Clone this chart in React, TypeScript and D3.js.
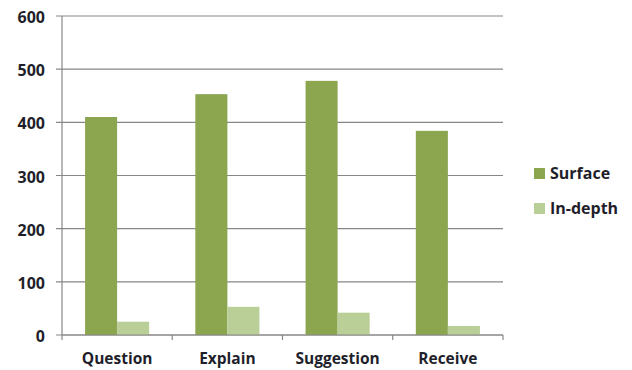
import React from "react";
import * as d3 from "d3";

const categories = ["Question", "Explain", "Suggestion", "Receive"];
const surfaceValues = [410, 453, 478, 384];
const inDepthValues = [25, 53, 42, 17];
const seriesNames = ["Surface", "In-depth"];
const yTicks = [0, 100, 200, 300, 400, 500, 600];

const colors = ["#8BA64F", "#BACF98"];
const font = "'Open Sans', 'Liberation Sans', sans-serif";
const textColor = "#1F1F2B";

export default function App() {
  const width = 632;
  const height = 370;
  const left = 62;
  const right = 503;
  const top = 16;
  const bottom = 335;

  const x = d3.scaleBand<string>().domain(categories).range([left, right]).paddingInner(0).paddingOuter(0);
  const inner = d3.scaleBand<number>().domain([0, 1]).range([0, x.bandwidth()]).paddingOuter(0.72).paddingInner(0);
  const y = d3.scaleLinear().domain([0, 600]).range([bottom, top]);
  const series = [surfaceValues, inDepthValues];

  const tickXs = categories.map((c) => x(c)!).concat([right]);

  return (
    <svg width={width} height={height} style={{ position: "absolute", left: 0, top: 0 }}>
      <rect width={width} height={height} fill="#fff" />
      {yTicks.map((t) => (
        <g key={t}>
          <line x1={left - 6} x2={right} y1={y(t)} y2={y(t)} stroke="#878787" strokeWidth={1.2} />
          <text x={left - 17} y={y(t) + 7} textAnchor="end" fontFamily={font} fontWeight={700} fontSize={16} fill={textColor}>
            {t}
          </text>
        </g>
      ))}
      <line x1={left} x2={left} y1={top} y2={bottom} stroke="#878787" strokeWidth={1.2} />
      {series.map((vals, si) =>
        categories.map((c, i) => (
          <rect
            key={`${si}-${c}`}
            x={x(c)! + inner(si)!}
            y={y(vals[i])}
            width={inner.bandwidth()}
            height={y(0) - y(vals[i])}
            fill={colors[si]}
          />
        ))
      )}
      <line x1={left} x2={right} y1={bottom} y2={bottom} stroke="#878787" strokeWidth={1.2} />
      {tickXs.map((tx, i) => (
        <line key={i} x1={tx} x2={tx} y1={bottom} y2={bottom + 5} stroke="#878787" strokeWidth={1.2} />
      ))}
      {categories.map((c) => (
        <text
          key={c}
          x={x(c)! + x.bandwidth() / 2}
          y={364}
          textAnchor="middle"
          fontFamily={font}
          fontWeight={700}
          fontSize={15.5}
          fill={textColor}
        >
          {c}
        </text>
      ))}
      {seriesNames.map((name, i) => (
        <g key={name} transform={`translate(534, ${168 + i * 35})`}>
          <rect width={11} height={11} fill={colors[i]} />
          <text x={16} y={11} fontFamily={font} fontWeight={700} fontSize={16} fill={textColor}>
            {name}
          </text>
        </g>
      ))}
    </svg>
  );
}
